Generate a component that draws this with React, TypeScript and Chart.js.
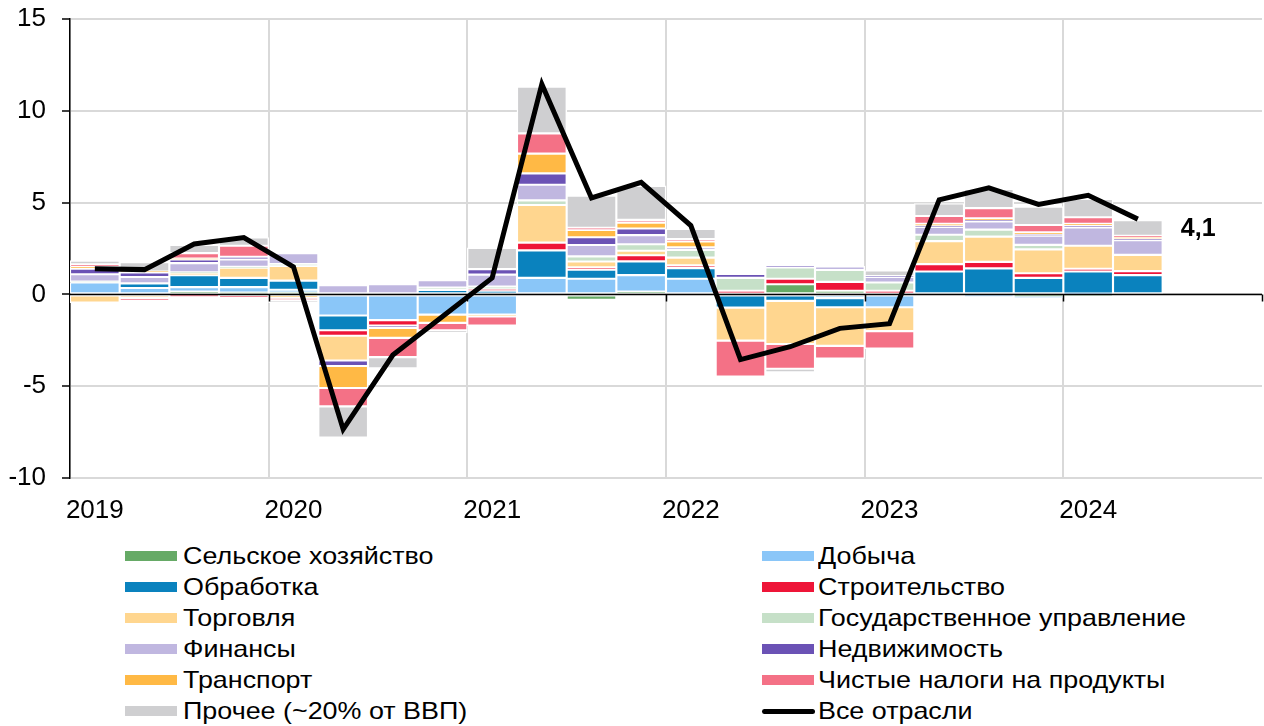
import { useEffect, useRef } from 'react';
import { Chart, registerables } from 'chart.js';

Chart.register(...registerables);

const years = ['2019', '2020', '2021', '2022', '2023', '2024'];
// 24 quarterly slots (2019Q1 .. 2024Q4); data covers 2019Q1 .. 2024Q2
const categories: string[] = years.flatMap((y) => [y, '', '', '']);

const agriculture = [0, 0, 0.15, 0.1, 0.1, 0, 0, 0, 0, 0, -0.3, 0.15, 0, 0, 0.55, 0.2, 0, 0, 0, -0.1, 0, 0];
const mining = [0.65, 0.35, 0.25, 0.3, 0.15, -1.15, -1.4, -1.1, -1.1, 0.9, 0.85, 0.9, 0.85, 0, 0, -0.2, -0.7, 0, -0.1, -0.08, 0.05, 0];
const manufacturing = [0, 0.25, 0.65, 0.5, 0.5, -0.8, 0, 0.25, 0.2, 1.5, 0.5, 0.75, 0.58, -0.72, -0.35, -0.5, 0, 1.25, 1.42, 0.9, 1.2, 1.05];
const construction = [0, 0, -0.1, -0.15, 0, -0.3, -0.3, 0, 0.08, 0.42, 0.12, 0.33, 0.15, 0.2, 0.3, 0.48, 0.2, 0.4, 0.35, 0.25, 0.15, 0.22];
const trade = [-0.45, -0.2, 0.1, 0.55, 0.8, -1.35, 0, 0, -0.1, 2.05, 0.32, 0.25, 0.42, -1.8, -2.35, -2.1, -1.3, 1.25, 1.38, 1.3, 1.25, 0.88];
const government = [0.05, 0, 0.05, 0.05, 0.1, 0, 0, 0.12, 0.15, 0.25, 0.28, 0.35, 0.42, 0.7, 0.62, 0.65, 0.45, 0.35, 0.38, 0.25, -0.08, 0];
const finance = [0.4, 0.35, 0.5, 0.4, 0.6, 0.5, 0.55, 0.4, 0.65, 0.85, 0.62, 0.5, 0.15, 0, 0, 0.2, 0.3, 0.42, 0.45, 0.5, 1.0, 0.8];
const realEstate = [0.3, 0.25, 0.2, 0.15, 0, -0.3, -0.12, 0, 0.3, 0.62, 0.42, 0.36, 0, 0.22, 0.1, 0, 0.05, 0.06, 0.05, 0.06, 0.1, 0.08];
const transport = [0.12, 0.05, 0.05, 0, -0.2, -1.2, -0.55, -0.45, 0, 1.08, 0.4, 0.32, 0.32, 0, 0, 0, 0, 0.12, 0.12, 0.12, 0.1, 0.08];
const netTaxes = [0.12, -0.15, 0.3, 0.6, -0.1, -1.0, -1.05, -0.4, -0.5, 1.1, 0.12, 0.15, 0.12, -1.95, -1.35, -0.7, -0.95, 0.42, 0.55, 0.4, 0.35, 0.08];
const other = [0.2, 0.5, 0.45, 0.45, -0.15, -1.7, -0.6, -0.15, 1.15, 2.55, 1.75, 1.85, 0.55, 0, -0.2, 0, 0.3, 0.68, 1.05, 1.0, 1.0, 0.85];
const allSectors = [1.4, 1.35, 2.75, 3.1, 1.5, -7.35, -3.3, -1.2, 0.9, 11.45, 5.25, 6.1, 3.75, -3.55, -2.85, -1.85, -1.6, 5.15, 5.8, 4.9, 5.4, 4.1];

const yTicks = [-10, -5, 0, 5, 10, 15];

const seriesNames = [
  'Сельское хозяйство',
  'Добыча',
  'Обработка',
  'Строительство',
  'Торговля',
  'Государственное управление',
  'Финансы',
  'Недвижимость',
  'Транспорт',
  'Чистые налоги на продукты',
  'Прочее (~20% от ВВП)',
];
const lineName = 'Все отрасли';
const seriesValues = [agriculture, mining, manufacturing, construction, trade, government, finance, realEstate, transport, netTaxes, other];
const seriesColors = ['#66AA66', '#8AC6F8', '#0A82BE', '#EE1538', '#FFD68F', '#C6E0C8', '#C0B7E0', '#6B52B5', '#FFB945', '#F47186', '#CFCFD1'];

const FONT = "'Liberation Sans', Arial, sans-serif";
const LINE_INDEX = seriesNames.length;

const decorPlugin = {
  id: 'decor',
  beforeDatasetDraw(chart: any, args: any) {
    if (args.index !== LINE_INDEX) return;
    const { ctx, chartArea, scales } = chart;
    const x = scales.x;
    const y = scales.y;
    const y0 = y.getPixelForValue(0);
    const half = (x.getPixelForValue(1) - x.getPixelForValue(0)) / 2;
    ctx.save();
    ctx.strokeStyle = '#000';
    ctx.lineWidth = 1.5;
    ctx.beginPath();
    ctx.moveTo(chartArea.left, y0);
    ctx.lineTo(chartArea.right, y0);
    for (let i = 4; i <= categories.length; i += 4) {
      const px = Math.round(x.getPixelForValue(i) - half) + 0.5;
      ctx.moveTo(px, y0);
      ctx.lineTo(px, y0 + 7);
    }
    ctx.stroke();
    ctx.restore();
  },
  afterDatasetsDraw(chart: any) {
    const meta = chart.getDatasetMeta(LINE_INDEX);
    const last = allSectors.length - 1;
    const pt = meta.data[last];
    if (!pt) return;
    const { ctx } = chart;
    ctx.save();
    ctx.font = `bold 25px ${FONT}`;
    ctx.fillStyle = '#000';
    ctx.textAlign = 'left';
    ctx.textBaseline = 'middle';
    ctx.fillText(allSectors[last].toFixed(1).replace('.', ','), pt.x + 43, pt.y + 10);
    ctx.restore();
  },
};

export default function App() {
  const canvasRef = useRef<HTMLCanvasElement | null>(null);

  useEffect(() => {
    if (!canvasRef.current) return;
    const datasets: any[] = seriesNames.map((name, i) => ({
      type: 'bar',
      label: name,
      data: seriesValues[i],
      backgroundColor: seriesColors[i],
      borderColor: '#FFFFFF',
      borderWidth: 1.4,
      borderSkipped: false,
      barPercentage: 1,
      categoryPercentage: 1,
      stack: 'sectors',
      order: 1,
    }));
    datasets.push({
      type: 'line',
      label: lineName,
      data: allSectors,
      borderColor: '#000000',
      borderWidth: 5,
      pointRadius: 0,
      tension: 0,
      stack: 'total',
      order: 0,
    });

    const chart = new Chart(canvasRef.current, {
      type: 'bar',
      data: { labels: categories, datasets },
      plugins: [decorPlugin],
      options: {
        animation: false,
        responsive: false,
        maintainAspectRatio: false,
        layout: { padding: { top: 19, right: 2, left: 0, bottom: 0 } },
        plugins: { legend: { display: false }, tooltip: { enabled: false } },
        scales: {
          x: {
            type: 'category',
            stacked: true,
            offset: true,
            border: { display: false },
            grid: {
              offset: true,
              drawTicks: false,
              lineWidth: 2,
              color: (ctx: any) => (ctx.index % 4 === 0 ? '#D9D9D9' : 'rgba(0,0,0,0)'),
            },
            ticks: {
              autoSkip: false,
              maxRotation: 0,
              padding: 17,
              color: '#000',
              font: { family: FONT, size: 26 },
              callback: (_v: any, i: number) => categories[i],
            },
            afterFit: (scale: any) => {
              scale.height = 52;
              scale.paddingLeft = 0;
              scale.paddingRight = 0;
            },
          },
          y: {
            stacked: true,
            min: -10,
            max: 15,
            afterBuildTicks: (scale: any) => {
              scale.ticks = yTicks.map((v) => ({ value: v }));
            },
            border: { display: true, color: '#000', width: 1.5 },
            grid: {
              lineWidth: 2,
              color: '#D9D9D9',
              tickColor: '#000',
              tickLength: 8,
              tickWidth: 1.5,
            },
            ticks: {
              padding: 16,
              color: '#000',
              font: { family: FONT, size: 26 },
            },
            afterFit: (scale: any) => {
              scale.width = 70;
              scale.paddingTop = 0;
              scale.paddingBottom = 0;
            },
          },
        },
      },
    });
    return () => chart.destroy();
  }, []);

  const rowH = 31;
  const top0 = 556;
  return (
    <div style={{ position: 'absolute', left: 0, top: 0, width: 1264, height: 726, background: '#fff', fontFamily: FONT }}>
      <canvas ref={canvasRef} width={1264} height={530} style={{ position: 'absolute', left: 0, top: 0 }} />
      {[...seriesNames, lineName].map((name, i) => {
        const col = i % 2;
        const row = Math.floor(i / 2);
        const boxX = col === 0 ? 125 : 762;
        const textX = col === 0 ? 183 : 818;
        const cy = top0 + row * rowH;
        const isLine = i === seriesNames.length;
        return (
          <div key={name}>
            {isLine ? (
              <div style={{ position: 'absolute', left: boxX, top: cy - 2.5, width: 53, height: 5, background: '#000', borderRadius: 3 }} />
            ) : (
              <div style={{ position: 'absolute', left: boxX, top: cy - 5, width: 52, height: 10, background: seriesColors[i] }} />
            )}
            <div
              style={{
                position: 'absolute',
                left: textX,
                top: cy - 15,
                height: 30,
                lineHeight: '30px',
                fontSize: 24,
                color: '#000',
                whiteSpace: 'nowrap',
                transform: 'scaleX(1.12)',
                transformOrigin: 'left center',
              }}
            >
              {name}
            </div>
          </div>
        );
      })}
    </div>
  );
}
